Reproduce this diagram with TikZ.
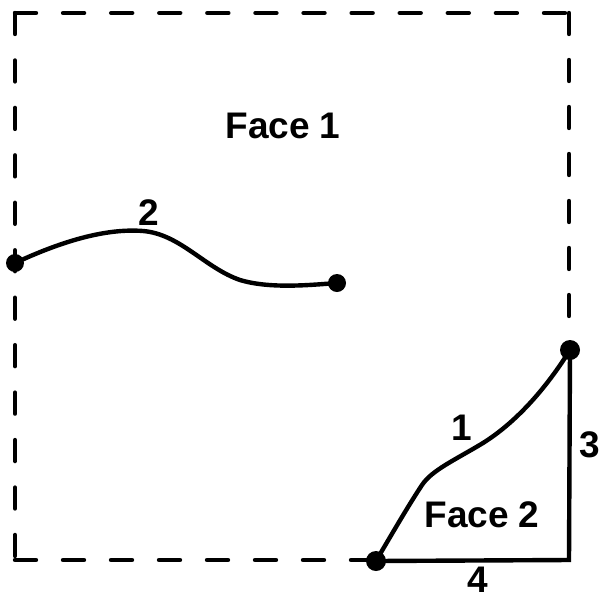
\documentclass[tikz,border=0pt]{standalone}
\usepackage{fontspec}
\setmainfont{Liberation Sans}
\begin{document}
\begin{tikzpicture}[x=1pt,y=-1pt,
  edgeline/.style={line width=4.4pt},
  dashside/.style={line width=4.4pt, line cap=round},
  vdot/.style={circle, fill=black, inner sep=0pt, minimum size=#1},
  lbl/.style={font=\fontsize{37}{37}\selectfont\bfseries, inner sep=0pt}]
\useasboundingbox (0,0) rectangle (602,600);
% corner coordinates
\coordinate (tl) at (15,13);
\coordinate (tr) at (569,13);
\coordinate (bl) at (15,560);
% dashed sides
\draw[dashside, dash pattern=on 21pt off 27.09pt] (tl) -- (tr);
\draw[dashside, dash pattern=on 21pt off 26.45pt] (tl) -- (bl);
\draw[dashside, dash pattern=on 21pt off 27pt] (bl) -- (376,560);
\draw[dashside, dash pattern=on 21pt off 26pt] (tr) -- (569,340);
% vertices
\node[vdot=18pt] (v1) at (15,263) {};
\node[vdot=18pt] (v2) at (337,283) {};
\node[vdot=20pt] (v3) at (570,350) {};
\node[vdot=20pt] (v4) at (376,561) {};
\coordinate (corner) at (569,560);
% edge 2
\draw[edgeline] (v1.center) .. controls (60,242) and (105,228) .. (143,231)
  .. controls (180,234) and (205,268) .. (240,280)
  .. controls (270,289) and (310,285) .. (v2.center);
% edge 1
\draw[edgeline] (v4.center) .. controls (400,520) and (412,500) .. (422,485)
  .. controls (432,470) and (455,460) .. (483,443)
  .. controls (515,423) and (545,390) .. (v3.center);
% edges 3 and 4
\draw[edgeline] (v3.center) -- (corner) -- (v4.center);
% labels
\node[lbl] (f1) at (283,126) {Face 1};
\node[lbl] (f2) at (482,515) {Face 2};
\node[lbl] (l1) at (462,428) {1};
\node[lbl] (l2) at (149,213) {2};
\node[lbl] (l3) at (590,445) {3};
\node[lbl] (l4) at (478,580) {4};
\end{tikzpicture}
\end{document}
